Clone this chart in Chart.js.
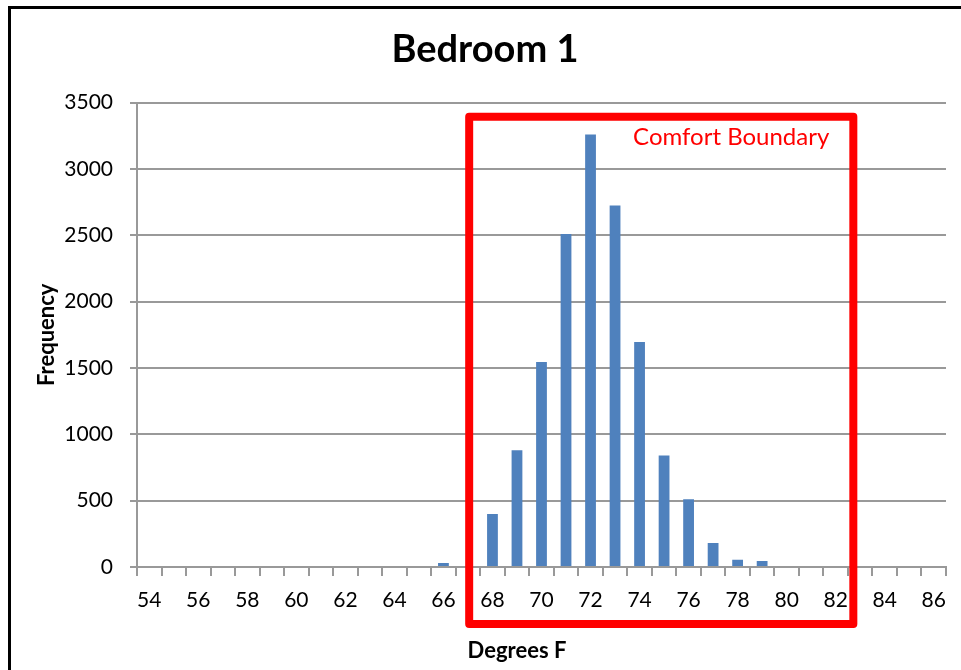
<!DOCTYPE html>
<html><head><meta charset="utf-8">
<script src="https://cdn.jsdelivr.net/npm/chart.js@4.4.1/dist/chart.umd.min.js"></script>
<style>html,body{margin:0;padding:0;background:#fff;overflow:hidden}#wrap{position:relative;width:961px;height:670px}</style>
</head><body><div id="wrap"><canvas id="c" width="961" height="670"></canvas></div>
<script>
// ---- data ----
const categories = ['54','55','56','57','58','59','60','61','62','63','64','65','66','67','68','69','70','71','72','73','74','75','76','77','78','79','80','81','82','83','84','85','86'];
const frequency  = [0,0,0,0,0,0,0,0,0,0,0,0,30,0,400,880,1545,2510,3260,2725,1695,840,510,180,55,45,0,0,0,0,0,0,0];
const xTickLabels = ['54','56','58','60','62','64','66','68','70','72','74','76','78','80','82','84','86'];
const yTickValues = [0,500,1000,1500,2000,2500,3000,3500];
const chartTitle = 'Bedroom 1';
const xAxisTitle = 'Degrees F';
const yAxisTitle = 'Frequency';
const annotationText = 'Comfort Boundary';

const FONT = 'Lato';
const comfortBox = {from: 13.05, to: 28.72, top: 3394, bottom: -430};

const deco = {
  id: 'deco',
  afterDraw(chart) {
    const {ctx, scales: {x, y}} = chart;
    ctx.save();
    // outer frame (top + left)
    ctx.strokeStyle = '#000'; ctx.lineWidth = 3;
    ctx.beginPath(); ctx.moveTo(9.5, 700); ctx.lineTo(9.5, 7.5); ctx.lineTo(990, 7.5); ctx.stroke();
    // comfort box
    const l = x.getPixelForValue(comfortBox.from);
    const r = x.getPixelForValue(comfortBox.to);
    const t = y.getPixelForValue(comfortBox.top);
    const b = y.getPixelForValue(comfortBox.bottom);
    ctx.strokeStyle = '#ff0000'; ctx.lineWidth = 8; ctx.lineJoin = 'round';
    ctx.strokeRect(l, t, r - l, b - t);
    ctx.fillStyle = '#ff0000';
    ctx.font = '24px ' + FONT; ctx.textAlign = 'right'; ctx.textBaseline = 'middle';
    ctx.fillText(annotationText, r - 24, t + 21);
    // x axis title
    ctx.fillStyle = '#000';
    ctx.font = 'bold 22px ' + FONT; ctx.textAlign = 'center';
    ctx.fillText(xAxisTitle, 517, 651);
    ctx.restore();
  }
};

new Chart(document.getElementById('c'), {
  type: 'bar',
  data: {
    labels: categories,
    datasets: [{
      data: frequency,
      backgroundColor: '#4F81BD',
      borderWidth: 0,
      barPercentage: 0.44,
      categoryPercentage: 1
    }]
  },
  options: {
    responsive: false,
    animation: false,
    events: [],
    layout: {padding: {left: 24, right: 15, top: 0, bottom: 0}},
    plugins: {
      legend: {display: false},
      tooltip: {enabled: false},
      title: {
        display: true, text: chartTitle, color: '#000',
        font: {family: FONT, size: 38, weight: 'bold'},
        padding: {top: 27, bottom: 30}
      }
    },
    scales: {
      x: {
        afterFit(s) { s.height = 103; },
        grid: {display: true, drawOnChartArea: false, drawTicks: true, tickLength: 9, color: '#999', lineWidth: 2, offset: true},
        border: {display: true, color: '#999', width: 2},
        ticks: {
          autoSkip: false, maxRotation: 0, minRotation: 0, padding: 12, color: '#000',
          font: {family: FONT, size: 21},
          callback(v) { const l = this.getLabelForValue(v); return xTickLabels.includes(l) ? l : ''; }
        }
      },
      y: {
        min: yTickValues[0], max: yTickValues[yTickValues.length - 1],
        afterFit(s) { s.width = 113; },
        afterBuildTicks(s) { s.ticks = yTickValues.map(v => ({value: v})); },
        grid: {color: '#999', lineWidth: 2, tickLength: 7},
        border: {display: true, color: '#999', width: 2},
        ticks: {padding: 17, color: '#000', font: {family: FONT, size: 21}, callback: v => String(v)},
        title: {display: true, text: yAxisTitle, color: '#000', font: {family: FONT, size: 22, weight: 'bold'}, padding: {top: 10, bottom: 0}}
      }
    }
  },
  plugins: [deco]
});
</script></body></html>
